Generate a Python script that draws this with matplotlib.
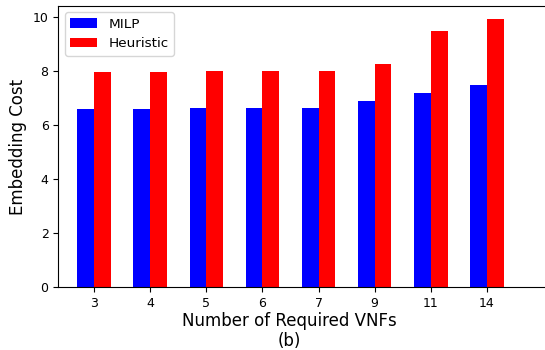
import numpy as np
import matplotlib
matplotlib.use("Agg")
import matplotlib.pyplot as plt

vnf_labels = ["3", "4", "5", "6", "7", "9", "11", "14"]
milp_cost = [6.59, 6.59, 6.63, 6.63, 6.63, 6.89, 7.19, 7.48]
heuristic_cost = [7.96, 7.96, 8.00, 8.00, 8.00, 8.26, 9.48, 9.92]

fig = plt.figure(figsize=(5.45, 3.5), dpi=100)
ax = fig.add_axes([0.107, 0.179, 0.920, 0.805])

x = np.arange(len(vnf_labels))
width = 0.3

ax.bar(x - width / 2, milp_cost, width, color="blue", label="MILP")
ax.bar(x + width / 2, heuristic_cost, width, color="red", label="Heuristic")

ax.set_xticks(x)
ax.set_xticklabels(vnf_labels)
# right edge sits just past the figure, so the right spine is cut off
ax.set_xlim(-0.64, 8.3)
ax.set_ylim(0, 10.41)
ax.tick_params(labelsize=9)

ax.set_ylabel("Embedding Cost", fontsize=12)
ax.set_xlabel("Number of Required VNFs\n(b)", fontsize=12, linespacing=1.15)
ax.xaxis.set_label_coords(0.46, -0.088, transform=ax.transAxes)
ax.xaxis.label.set_va("top")

ax.legend(loc="upper left", fontsize=9.7)

fig.savefig("out.png", dpi=100)
